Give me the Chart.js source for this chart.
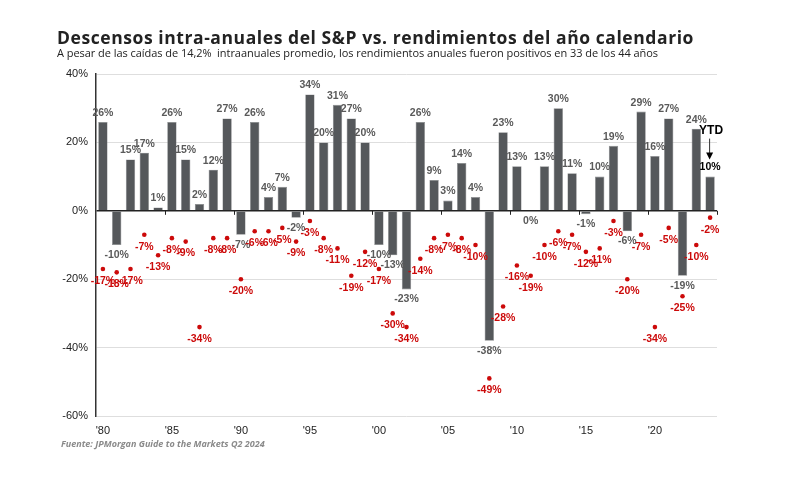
<!DOCTYPE html>
<html>
<head>
<meta charset="utf-8">
<script src="https://cdn.jsdelivr.net/npm/chart.js@4"></script>
<style>
  html, body { margin: 0; padding: 0; background: #fff; }
  #wrap { position: relative; width: 800px; height: 489px; }
  .txt { position: absolute; white-space: nowrap; line-height: 1; }
  #title { left: 57px; top: 25px; font: bold 17.5px "Open Sans", sans-serif; color: #222; }
  #sub { left: 57px; top: 45px; font: 11px "Open Sans", sans-serif; color: #222; }
  #src { left: 61px; top: 437px; font: italic bold 9px "Open Sans", sans-serif; color: #8a8a8a; }
  canvas { position: absolute; left: 0; top: 0; }
</style>
</head>
<body>
<div id="wrap">
  <canvas id="chart" width="800" height="489"></canvas>
  <div class="txt" id="title" data-w="637">Descensos intra-anuales del S&amp;P vs. rendimientos del año calendario</div>
  <div class="txt" id="sub" data-w="601">A pesar de las caídas de 14,2%&nbsp; intraanuales promedio, los rendimientos anuales fueron positivos en 33 de los 44 años</div>
  <div class="txt" id="src">Fuente: JPMorgan Guide to the Markets Q2 2024</div>
</div>
<script>
  // years 1980 - 2024 (2024 = YTD)
  const years = ['1980','1981','1982','1983','1984','1985','1986','1987','1988','1989',
    '1990','1991','1992','1993','1994','1995','1996','1997','1998','1999',
    '2000','2001','2002','2003','2004','2005','2006','2007','2008','2009',
    '2010','2011','2012','2013','2014','2015','2016','2017','2018','2019',
    '2020','2021','2022','2023','2024'];

  // calendar year returns (%)
  const annualReturns = [26,-10,15,17,1,26,15,2,12,27,
    -7,26,4,7,-2,34,20,31,27,20,
    -10,-13,-23,26,9,3,14,4,-38,23,
    13,0,13,30,11,-1,10,19,-6,29,
    16,27,-19,24,10];

  // intra-year declines (%)
  const intraYearDeclines = [-17,-18,-17,-7,-13,-8,-9,-34,-8,-8,
    -20,-6,-6,-5,-9,-3,-8,-11,-19,-12,
    -17,-30,-34,-14,-8,-7,-8,-10,-49,-28,
    -16,-19,-10,-6,-7,-12,-11,-3,-20,-7,
    -34,-5,-25,-10,-2];

  const yTicks = [-60, -40, -20, 0, 20, 40];
  const xTickYears = ['1980','1985','1990','1995','2000','2005','2010','2015','2020'];

  const barColor = '#55585b';
  const red = '#cc0a0a';
  const labelFont = 'bold 10.5px "Liberation Sans", Arial, sans-serif';

  // stretch header lines to the width they have in the original
  document.querySelectorAll('[data-w]').forEach(el => {
    const target = +el.dataset.w;
    const n = el.textContent.length;
    el.style.letterSpacing = ((target - el.getBoundingClientRect().width) / n) + 'px';
  });

  const valueLabels = {
    id: 'valueLabels',
    afterDatasetsDraw(chart) {
      const ctx = chart.ctx;
      const bars = chart.getDatasetMeta(0).data;
      const dots = chart.getDatasetMeta(1).data;
      const zero = chart.scales.y.getPixelForValue(0);
      ctx.save();
      ctx.font = labelFont;
      ctx.textAlign = 'center';
      ctx.textBaseline = 'middle';
      bars.forEach((b, i) => {
        const v = annualReturns[i];
        ctx.fillStyle = i === bars.length - 1 ? '#000' : '#5a5a5a';
        if (v > 0) ctx.fillText(v + '%', b.x, b.y - 9);
        else ctx.fillText(v + '%', b.x, Math.max(b.y, zero) + 10);
      });
      ctx.fillStyle = red;
      dots.forEach((p, i) => {
        ctx.fillText(intraYearDeclines[i] + '%', p.x, p.y + 12);
      });

      // YTD note on the last bar
      const last = bars[bars.length - 1];
      ctx.fillStyle = '#000';
      ctx.font = 'bold 12px "Liberation Sans", Arial, sans-serif';
      ctx.fillText('YTD', last.x + 1, last.y - 46);
      ctx.strokeStyle = '#333';
      ctx.lineWidth = 1;
      ctx.beginPath();
      ctx.moveTo(last.x - 0.5, last.y - 38);
      ctx.lineTo(last.x - 0.5, last.y - 22);
      ctx.stroke();
      ctx.beginPath();
      ctx.moveTo(last.x - 4, last.y - 24);
      ctx.lineTo(last.x + 3, last.y - 24);
      ctx.lineTo(last.x - 0.5, last.y - 17);
      ctx.closePath();
      ctx.fillStyle = '#000';
      ctx.fill();

      // small ticks on the zero line every 5 years
      const x = chart.scales.x;
      const half = (x.getPixelForValue(1) - x.getPixelForValue(0)) / 2;
      ctx.strokeStyle = '#222';
      ctx.lineWidth = 1;
      xTickYears.slice(1).forEach(y => {
        const px = Math.round(x.getPixelForValue(years.indexOf(y)) - half) + 0.5;
        ctx.beginPath();
        ctx.moveTo(px, zero);
        ctx.lineTo(px, zero + 4);
        ctx.stroke();
      });
      const endX = Math.round(chart.chartArea.right) + 0.5;
      ctx.beginPath();
      ctx.moveTo(endX, zero);
      ctx.lineTo(endX, zero + 4);
      ctx.stroke();
      ctx.restore();
    }
  };

  new Chart(document.getElementById('chart'), {
    type: 'bar',
    data: {
      labels: years,
      datasets: [{
        data: annualReturns,
        backgroundColor: barColor,
        borderColor: '#8a8c8e',
        borderWidth: 0.6,
        barPercentage: 0.68,
        categoryPercentage: 1,
        order: 2
      }, {
        type: 'line',
        data: intraYearDeclines,
        showLine: false,
        pointRadius: 2.3,
        pointBackgroundColor: red,
        pointBorderWidth: 0,
        order: 1
      }]
    },
    options: {
      responsive: false,
      animation: false,
      layout: { padding: { left: 0, top: 74, right: 83, bottom: 43 } },
      plugins: { legend: { display: false }, tooltip: { enabled: false } },
      scales: {
        x: {
          offset: true,
          grid: { display: false, drawTicks: false },
          border: { display: false },
          afterFit(s) { s.height = 30; },
          ticks: {
            autoSkip: false,
            maxRotation: 0,
            padding: 8,
            color: '#222',
            font: { size: 11, family: '"Liberation Sans", Arial, sans-serif' },
            callback(v) {
              const y = years[v];
              return xTickYears.includes(y) ? "'" + y.slice(2) : '';
            }
          }
        },
        y: {
          min: -60,
          max: 40,
          afterFit(s) { s.width = 96; },
          afterBuildTicks(s) { s.ticks = yTicks.map(v => ({ value: v })); },
          border: { display: true, color: '#333', width: 1.5 },
          grid: {
            drawTicks: false,
            color: c => c.tick.value === 0 ? '#222' : '#dedede',
            lineWidth: c => c.tick.value === 0 ? 1.5 : 1
          },
          ticks: {
            padding: 8,
            color: '#222',
            font: { size: 11, family: '"Liberation Sans", Arial, sans-serif' },
            callback: v => v + '%'
          }
        }
      }
    },
    plugins: [valueLabels]
  });
</script>
</body>
</html>
